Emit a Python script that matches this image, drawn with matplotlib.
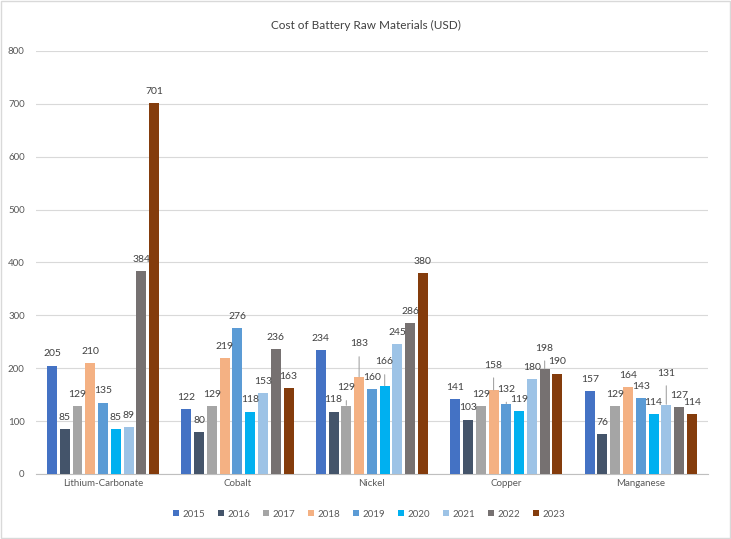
from matplotlib import pyplot as plt
from matplotlib.patches import Rectangle
from numpy import arange

## Dados
materials = ['Lithium-Carbonate', 'Cobalt', 'Nickel', 'Copper', 'Manganese']
years = ['2015', '2016', '2017', '2018', '2019', '2020', '2021', '2022', '2023']
cost_2015 = [205, 122, 234, 141, 157]
cost_2016 = [85, 80, 118, 103, 76]
cost_2017 = [129, 129, 129, 129, 129]
cost_2018 = [210, 219, 183, 158, 164]
cost_2019 = [135, 276, 160, 132, 143]
cost_2020 = [85, 118, 166, 119, 114]
cost_2021 = [89, 153, 245, 180, 131]
cost_2022 = [384, 236, 286, 198, 127]
cost_2023 = [701, 163, 380, 190, 114]
series = [cost_2015, cost_2016, cost_2017, cost_2018, cost_2019,
          cost_2020, cost_2021, cost_2022, cost_2023]

colors = ['#4472C4', '#44546A', '#A5A5A5', '#F4B183', '#5B9BD5',
          '#00B0F0', '#9DC3E6', '#767171', '#843C0C']

# rótulos com linha de chamada (grupo, série): deslocamento vertical (unidades do eixo)
leader = {
    (2, 2): 34, (2, 3): 63, (2, 5): 46,
    (3, 3): 48, (3, 4): 28, (3, 7): 40,
    (4, 6): 60,
}

## Figura
fig = plt.figure(figsize=(7.31, 5.39), dpi=100)
plt.rcParams['font.family'] = ['Lato', 'DejaVu Sans']
fig.patches.append(Rectangle((0.001, 0.001), 0.997, 0.997, transform=fig.transFigure,
                             fill=False, edgecolor='#D9D9D9', linewidth=1))
ax = fig.add_axes([0.049, 0.1206, 0.9195, 0.7848])

x = arange(len(materials))
slot = 0.095
width = 0.074
handles = []
for i, (vals, c) in enumerate(zip(series, colors)):
    pos = x + (i - 4) * slot
    b = ax.bar(pos, vals, width=width, color=c, zorder=3, label=years[i])
    handles.append(b)
    for g, (px, v) in enumerate(zip(pos, vals)):
        if (g, i) in leader:
            ax.annotate(str(v), xy=(px, v + 1), xytext=(px, v + leader[(g, i)]),
                        ha='center', va='center', fontsize=7.5, color='#404040', zorder=4,
                        arrowprops=dict(arrowstyle='-', color='#A6A6A6', lw=0.8,
                                        shrinkA=4, shrinkB=0))
        else:
            ax.text(px, v + 22, str(v), ha='center', va='center',
                    fontsize=7.5, color='#404040', zorder=4)

## Eixos
ax.set_xlim(-0.5, 4.5)
ax.set_ylim(0, 800)
ax.set_yticks(arange(0, 801, 100))
ax.set_xticks(x)
ax.set_xticklabels(materials)
ax.tick_params(axis='both', length=0, labelsize=7, colors='#595959')
ax.tick_params(axis='y', pad=8)
ax.grid(axis='y', color='#D9D9D9', linewidth=0.8, zorder=0)
for s in ['top', 'right', 'left']:
    ax.spines[s].set_visible(False)
ax.spines['bottom'].set_color('#BFBFBF')

fig.text(0.5, 0.9536, 'Cost of Battery Raw Materials (USD)', ha='center', va='center',
         fontsize=8.5, color='#404040')

fig.legend(handles=handles, labels=years, loc='center', bbox_to_anchor=(0.505, 0.046),
           ncol=9, frameon=False, fontsize=7, handlelength=0.6, handleheight=0.6,
           handletextpad=0.4, columnspacing=1.3, labelcolor='#595959')

fig.savefig('out.png', dpi=100)
